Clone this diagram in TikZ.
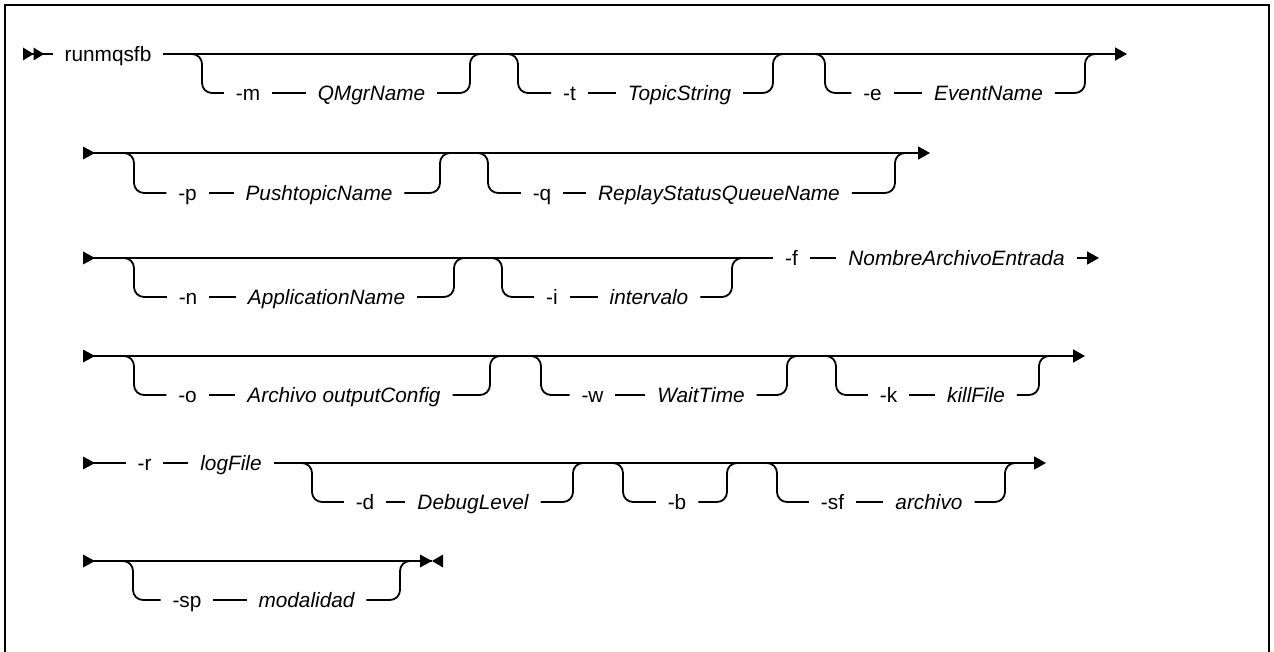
\documentclass[tikz,border=0pt]{standalone}
\usepackage{fontspec}
\setmainfont{Liberation Sans}
\usetikzlibrary{arrows.meta}
\tikzset{
  rail/.style={line width=1.8pt, rounded corners=10pt},
  kw/.style={inner sep=0pt, outer sep=12pt, text height=14.9pt, text depth=0pt, font=\fontsize{20.8}{24}\selectfont},
  var/.style={kw, font=\fontsize{20.8}{24}\selectfont\itshape},
  endtip/.style={-{Triangle[length=12pt,width=13pt]}},
  frameline/.style={line width=2pt},
}
\begin{document}
\begin{tikzpicture}[x=1pt,y=-1pt]
\useasboundingbox (0,0) rectangle (1274,652);
\draw[frameline] (5,652) -- (5,5) -- (1269,5) -- (1269,652);

% ---------------- Row 1
\coordinate (s1) at (23,54);
\coordinate (e1) at (1127,54);
\node[kw] (cmd) at (108,54) {runmqsfb};
\draw[rail] (s1) -- (cmd);
\draw[rail,endtip] (cmd) -- (e1);
\fill (s1) -- ++(0,-6.5) -- ++(10.5,6.5) -- ++(-10.5,6.5) -- cycle;
\fill ([xshift=10.5pt]s1) -- ++(0,-6.5) -- ++(10.5,6.5) -- ++(-10.5,6.5) -- cycle;
% -m
\node[kw] (m1k) at (248,93) {-m};
\node[var] (m1v) at (371.5,93) {QMgrName};
\draw[rail] (188,54) -- (202,54) -- (202,93) -- (m1k);
\draw[rail] (m1k) -- (m1v);
\draw[rail] (m1v) -- (470,93) -- (470,54) -- (484,54);
% -t
\node[kw] (t1k) at (569.5,93) {-t};
\node[var] (t1v) at (679.5,93) {TopicString};
\draw[rail] (504,54) -- (518,54) -- (518,93) -- (t1k);
\draw[rail] (t1k) -- (t1v);
\draw[rail] (t1v) -- (773,93) -- (773,54) -- (787,54);
% -e
\node[kw] (e1k) at (872.5,93) {-e};
\node[var] (e1v) at (988.5,93) {EventName};
\draw[rail] (811,54) -- (825,54) -- (825,93) -- (e1k);
\draw[rail] (e1k) -- (e1v);
\draw[rail] (e1v) -- (1085,93) -- (1085,54) -- (1099,54);

% ---------------- Row 2
\coordinate (s2) at (83,153);
\coordinate (e2) at (930,153);
\draw[rail,endtip] (s2) -- (e2);
\fill (s2) -- ++(0,-6.5) -- ++(12,6.5) -- ++(-12,6.5) -- cycle;
% -p
\node[kw] (p2k) at (187.5,193) {-p};
\node[var] (p2v) at (319,193) {PushtopicName};
\draw[rail] (120,153) -- (134,153) -- (134,193) -- (p2k);
\draw[rail] (p2k) -- (p2v);
\draw[rail] (p2v) -- (440,193) -- (440,153) -- (454,153);
% -q
\node[kw] (q2k) at (542,193) {-q};
\node[var] (q2v) at (719,193) {ReplayStatusQueueName};
\draw[rail] (474,153) -- (488,153) -- (488,193) -- (q2k);
\draw[rail] (q2k) -- (q2v);
\draw[rail] (q2v) -- (895,193) -- (895,153) -- (909,153);

% ---------------- Row 3
\coordinate (s3) at (83,258);
\coordinate (e3) at (1099,258);
\node[kw] (f3k) at (791.5,258) {-f};
\node[var] (f3v) at (956.5,258) {NombreArchivoEntrada};
\draw[rail] (s3) -- (f3k);
\draw[rail] (f3k) -- (f3v);
\draw[rail,endtip] (f3v) -- (e3);
\fill (s3) -- ++(0,-6.5) -- ++(12,6.5) -- ++(-12,6.5) -- cycle;
% -n
\node[kw] (n3k) at (188,297) {-n};
\node[var] (n3v) at (326.5,297) {ApplicationName};
\draw[rail] (120,258) -- (134,258) -- (134,297) -- (n3k);
\draw[rail] (n3k) -- (n3v);
\draw[rail] (n3v) -- (454,297) -- (454,258) -- (468,258);
% -i
\node[kw] (i3k) at (552,297) {-i};
\node[var] (i3v) at (649,297) {intervalo};
\draw[rail] (488,258) -- (502,258) -- (502,297) -- (i3k);
\draw[rail] (i3k) -- (i3v);
\draw[rail] (i3v) -- (732,297) -- (732,258) -- (746,258);

% ---------------- Row 4
\coordinate (s4) at (83,356);
\coordinate (e4) at (1085,356);
\draw[rail,endtip] (s4) -- (e4);
\fill (s4) -- ++(0,-6.5) -- ++(12,6.5) -- ++(-12,6.5) -- cycle;
% -o
\node[kw] (o4k) at (187.5,395) {-o};
\node[var] (o4v) at (344,395) {Archivo outputConfig};
\draw[rail] (120,356) -- (134,356) -- (134,395) -- (o4k);
\draw[rail] (o4k) -- (o4v);
\draw[rail] (o4v) -- (490,395) -- (490,356) -- (504,356);
% -w
\node[kw] (w4k) at (592.5,395) {-w};
\node[var] (w4v) at (701,395) {WaitTime};
\draw[rail] (527,356) -- (541,356) -- (541,395) -- (w4k);
\draw[rail] (w4k) -- (w4v);
\draw[rail] (w4v) -- (787,395) -- (787,356) -- (801,356);
% -k
\node[kw] (k4k) at (888.5,395) {-k};
\node[var] (k4v) at (976,395) {killFile};
\draw[rail] (822,356) -- (836,356) -- (836,395) -- (k4k);
\draw[rail] (k4k) -- (k4v);
\draw[rail] (k4v) -- (1039,395) -- (1039,356) -- (1053,356);

% ---------------- Row 5
\coordinate (s5) at (83,463);
\coordinate (e5) at (1046,463);
\node[kw] (r5k) at (144.5,463) {-r};
\node[var] (r5v) at (231,463) {logFile};
\draw[rail] (s5) -- (r5k);
\draw[rail] (r5k) -- (r5v);
\draw[rail,endtip] (r5v) -- (e5);
\fill (s5) -- ++(0,-6.5) -- ++(12,6.5) -- ++(-12,6.5) -- cycle;
% -d
\node[kw] (d5k) at (365,502) {-d};
\node[var] (d5v) at (473,502) {DebugLevel};
\draw[rail] (298,463) -- (312,463) -- (312,502) -- (d5k);
\draw[rail] (d5k) -- (d5v);
\draw[rail] (d5v) -- (573,502) -- (573,463) -- (587,463);
% -b
\node[kw] (b5k) at (677,502) {-b};
\draw[rail] (609,463) -- (623,463) -- (623,502) -- (b5k);
\draw[rail] (b5k) -- (727,502) -- (727,463) -- (741,463);
% -sf
\node[kw] (sf5k) at (832.5,502) {-sf};
\node[var] (sf5v) at (929,502) {archivo};
\draw[rail] (763,463) -- (777,463) -- (777,502) -- (sf5k);
\draw[rail] (sf5k) -- (sf5v);
\draw[rail] (sf5v) -- (1005,502) -- (1005,463) -- (1019,463);

% ---------------- Row 6
\coordinate (s6) at (83,561);
\coordinate (e6) at (432,561);
\draw[rail] (s6) -- (e6);
\fill (s6) -- ++(0,-6.5) -- ++(12,6.5) -- ++(-12,6.5) -- cycle;
\fill (e6) -- ++(-12,-6.5) -- ++(0,13) -- cycle;
\fill (e6) -- ++(11,-6.5) -- ++(0,13) -- cycle;
% -sp
\node[kw] (sp6k) at (187,600) {-sp};
\node[var] (sp6v) at (306.5,600) {modalidad};
\draw[rail] (119,561) -- (133,561) -- (133,600) -- (sp6k);
\draw[rail] (sp6k) -- (sp6v);
\draw[rail] (sp6v) -- (400,600) -- (400,561) -- (414,561);
\end{tikzpicture}
\end{document}
